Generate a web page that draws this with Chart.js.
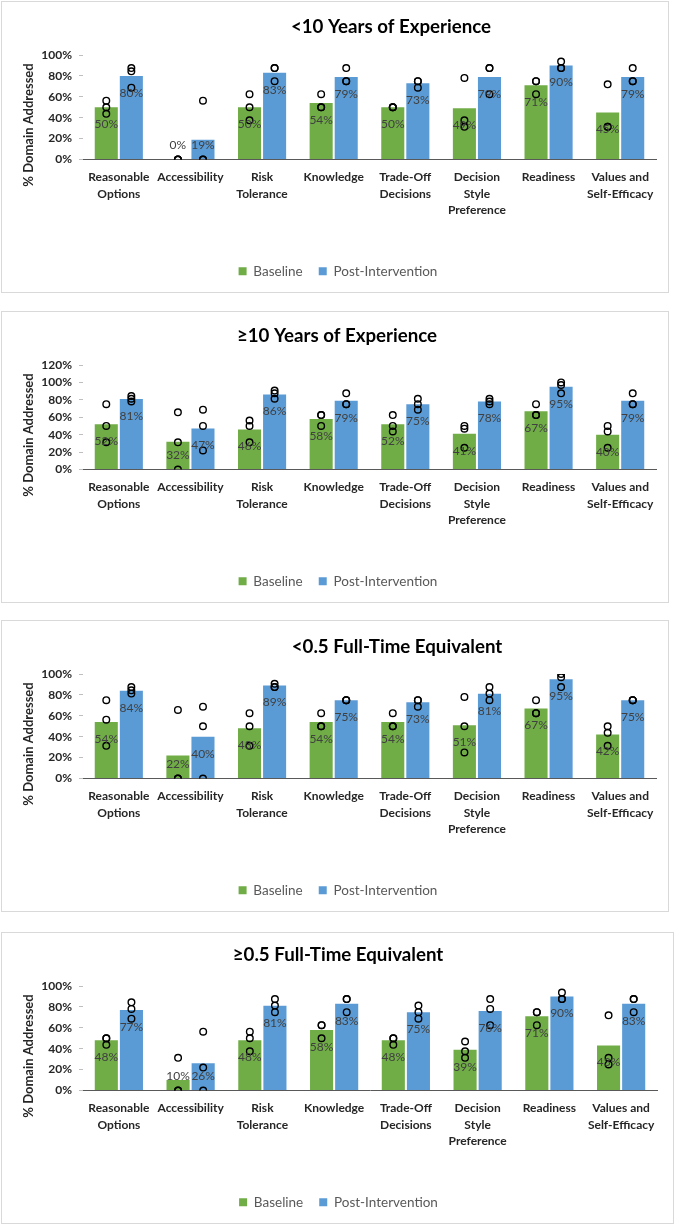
<!DOCTYPE html>
<html>
<head>
<meta charset="utf-8">
<script src="https://cdn.jsdelivr.net/npm/chart.js@4.4.0/dist/chart.umd.min.js"></script>
<style>
  body { margin: 0; background: #fff; width: 675px; height: 1225px; position: relative; }
  .panel { position: absolute; left: 1px; border: 1px solid #d9d9d9; background: #fff; }
  .panel canvas { display: block; }
</style>
</head>
<body>
<div class="panel" style="top:1px;width:666px;height:290px"><canvas id="c1"></canvas></div>
<div class="panel" style="top:311px;width:666px;height:290px"><canvas id="c2"></canvas></div>
<div class="panel" style="top:620px;width:666px;height:290px"><canvas id="c3"></canvas></div>
<div class="panel" style="top:932px;width:671px;height:290px"><canvas id="c4"></canvas></div>
<script>
// categories and series
const categories = [['Reasonable', 'Options'], 'Accessibility', ['Risk', 'Tolerance'], 'Knowledge',
  ['Trade-Off', 'Decisions'], ['Decision', 'Style', 'Preference'], 'Readiness', ['Values and', 'Self-Efficacy']];
const seriesNames = ['Baseline', 'Post-Intervention'];
const yTitle = '% Domain Addressed';

// <10 years of experience
const lt10Baseline = [50, 0, 50, 54, 50, 49, 71, 45];
const lt10Post = [80, 19, 83, 79, 73, 79, 90, 79];
const lt10BaselinePts = [[56.25, 50, 43.75], [0, 0, 0], [62.5, 50, 37.5], [62.5, 50, 50], [50, 50, 50], [78.1, 37.5, 31.25], [75, 75, 62.5], [71.9, 31.25, 31.25]];
const lt10PostPts = [[87.5, 84.4, 68.75], [56.25, 0, 0], [87.5, 87.5, 75], [87.5, 75, 75], [75, 75, 68.75], [87.5, 87.5, 62.5], [93.75, 87.5, 87.5], [87.5, 75, 75]];

// >=10 years of experience
const ge10Baseline = [52, 32, 46, 58, 52, 41, 67, 40];
const ge10Post = [81, 47, 86, 79, 75, 78, 95, 79];
const ge10BaselinePts = [[75, 50, 31.25], [65.6, 31.25, 0], [56.25, 50, 31.25], [62.5, 62.5, 50], [62.5, 50, 43.75], [50, 46.9, 25], [75, 62.5, 62.5], [50, 43.75, 25]];
const ge10PostPts = [[84.4, 81.25, 78.1], [68.75, 50, 21.9], [90.6, 87.5, 81.25], [87.5, 75, 75], [81.25, 75, 68.75], [81.25, 78.1, 75], [100, 96.9, 87.5], [87.5, 75, 75]];

// <0.5 FTE
const ltFteBaseline = [54, 22, 48, 54, 54, 51, 67, 42];
const ltFtePost = [84, 40, 89, 75, 73, 81, 95, 75];
const ltFteBaselinePts = [[75, 56.25, 31.25], [65.6, 0, 0], [62.5, 50, 31.25], [62.5, 50, 50], [62.5, 50, 50], [78.1, 50, 25], [75, 62.5, 62.5], [50, 43.75, 31.25]];
const ltFtePostPts = [[87.5, 84.4, 81.25], [68.75, 50, 0], [90.6, 87.5, 87.5], [75, 75, 75], [75, 75, 68.75], [87.5, 81.25, 75], [100, 96.9, 87.5], [75, 75, 75]];

// >=0.5 FTE
const geFteBaseline = [48, 10, 48, 58, 48, 39, 71, 43];
const geFtePost = [77, 26, 81, 83, 75, 76, 90, 83];
const geFteBaselinePts = [[50, 50, 43.75], [31.25, 0, 0], [56.25, 50, 37.5], [62.5, 62.5, 50], [50, 50, 43.75], [46.9, 37.5, 31.25], [75, 75, 62.5], [71.9, 31.25, 25]];
const geFtePostPts = [[84.4, 78.1, 68.75], [56.25, 21.9, 0], [87.5, 81.25, 75], [87.5, 87.5, 75], [81.25, 75, 68.75], [87.5, 78.1, 62.5], [93.75, 87.5, 87.5], [87.5, 87.5, 75]];

const GREEN = '#70ad47';
const BLUE = '#5b9bd5';
const CAT_PCT = 0.7;   // categoryPercentage of the bars
const FONT = 'Lato, "Open Sans", sans-serif';

// scatter points sit over the middle of their bar (category index +/- a quarter of the group)
function toPoints(pts, side) {
  const shift = side * CAT_PCT / 4;
  const out = [];
  pts.forEach((vals, i) => vals.forEach(v => out.push({ x: i + shift, y: v })));
  return out;
}

// % labels inside the top of each bar
const barLabels = {
  id: 'barLabels',
  afterDatasetsDraw(chart) {
    const ctx = chart.ctx;
    const base = chart.scales.y.getPixelForValue(0);
    ctx.save();
    ctx.font = '12px ' + FONT;
    ctx.fillStyle = '#404040';
    ctx.textAlign = 'center';
    ctx.textBaseline = 'middle';
    [0, 1].forEach(di => {
      chart.getDatasetMeta(di).data.forEach((bar, i) => {
        const v = chart.data.datasets[di].data[i];
        ctx.fillText(v + '%', bar.x, Math.min(bar.y + 17, base - 14));
      });
    });
    ctx.restore();
  }
};

// chart title and y title (Excel placed them off centre)
const panelText = {
  id: 'panelText',
  afterDraw(chart, args, opts) {
    const ctx = chart.ctx;
    ctx.save();
    ctx.fillStyle = '#000';
    ctx.textAlign = 'center';
    ctx.textBaseline = 'middle';
    ctx.font = 'bold 18.7px ' + FONT;
    ctx.fillText(opts.text, opts.x, opts.y);
    ctx.fillStyle = '#262626';
    ctx.font = 'bold 13px ' + FONT;
    ctx.translate(27, 123);
    ctx.rotate(-Math.PI / 2);
    ctx.fillText(yTitle, 0, 0);
    ctx.restore();
  }
};

function makeChart(id, title, tx, ty, base, post, basePts, postPts, yMax, rightPad) {
  // points go on the same category axis, given as already-parsed index values
  const pointStyle = {
    type: 'scatter', parsing: false, xAxisID: 'x', yAxisID: 'y', order: 1,
    pointRadius: 3.3, pointHoverRadius: 3.3, pointBorderWidth: 1.4,
    pointBorderColor: '#000', pointBackgroundColor: 'rgba(0,0,0,0)', showLine: false
  };
  return new Chart(document.getElementById(id), {
    type: 'bar',
    data: {
      labels: categories,
      datasets: [
        { label: seriesNames[0], data: base, backgroundColor: GREEN, xAxisID: 'x', order: 2,
          categoryPercentage: CAT_PCT, barPercentage: 0.92 },
        { label: seriesNames[1], data: post, backgroundColor: BLUE, xAxisID: 'x', order: 2,
          categoryPercentage: CAT_PCT, barPercentage: 0.92 },
        Object.assign({ label: seriesNames[0] + ' items', data: toPoints(basePts, -1) }, pointStyle),
        Object.assign({ label: seriesNames[1] + ' items', data: toPoints(postPts, 1) }, pointStyle)
      ]
    },
    options: {
      responsive: true,
      maintainAspectRatio: false,
      animation: false,
      layout: { padding: { top: 53, right: rightPad, bottom: 4, left: 18 } },
      scales: {
        x: {
          type: 'category',
          grid: { display: false, drawTicks: false },
          border: { display: true, color: '#595959', width: 1 },
          ticks: { autoSkip: false, maxRotation: 0, minRotation: 0, padding: 10, color: '#262626',
            font: { family: FONT, size: 12, weight: 'bold', lineHeight: 1.35 } },
          afterFit(scale) { scale.height = 89; }
        },
        y: {
          min: 0, max: yMax,
          ticks: { stepSize: 20, autoSkip: false, padding: 7, color: '#262626', callback: v => v + '%',
            font: { family: FONT, size: 12, weight: 'bold' } },
          grid: { drawOnChartArea: false, drawTicks: true, tickLength: 4, color: '#bfbfbf' },
          border: { display: false },
          afterFit(scale) { scale.width = 63; }
        }
      },
      plugins: {
        legend: {
          position: 'bottom',
          labels: { filter: item => item.datasetIndex < 2, boxWidth: 8, boxHeight: 8, padding: 16,
            color: '#595959', font: { family: FONT, size: 13.5 } }
        },
        title: { display: false },
        tooltip: { enabled: false },
        panelText: { text: title, x: tx, y: ty }
      }
    },
    plugins: [barLabels, panelText]
  });
}

makeChart('c1', '<10 Years of Experience', 389, 25, lt10Baseline, lt10Post, lt10BaselinePts, lt10PostPts, 100, 12);
makeChart('c2', '≥10 Years of Experience', 335, 24, ge10Baseline, ge10Post, ge10BaselinePts, ge10PostPts, 120, 12);
makeChart('c3', '<0.5 Full-Time Equivalent', 395, 26, ltFteBaseline, ltFtePost, ltFteBaselinePts, ltFtePostPts, 100, 12);
makeChart('c4', '≥0.5 Full-Time Equivalent', 336, 22, geFteBaseline, geFtePost, geFteBaselinePts, geFtePostPts, 100, 16);
</script>
</body>
</html>
